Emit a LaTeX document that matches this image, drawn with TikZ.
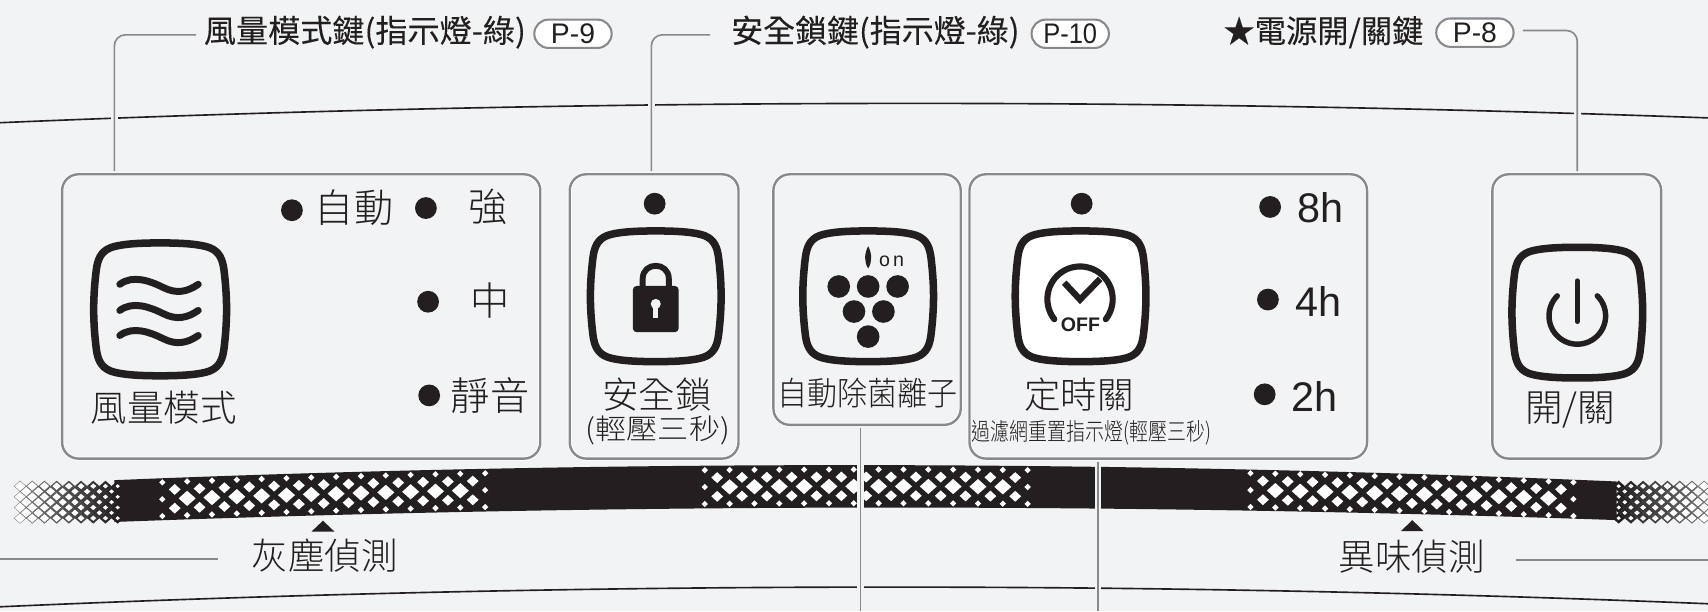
\documentclass[tikz,border=0pt]{standalone}
\usepackage{fontspec}
\setmainfont{Liberation Sans}
\newfontfamily\cjk{Noto Sans CJK TC Light}
\newfontfamily\cjkh[FakeBold=0.12]{Noto Sans CJK TC}
\definecolor{bg}{HTML}{F1F3F5}
\definecolor{ink}{HTML}{231F20}
\definecolor{leadc}{HTML}{87898C}
\newcommand\fs[1]{\fontsize{#1}{#1}\selectfont}
\newcommand\dmd[5]{\fill[#5] ({#1-#3},{#2}) -- ({#1},{#2-#4}) -- ({#1+#3},{#2}) -- ({#1},{#2+#4}) -- cycle;}
\newcommand\sqc[4][]{\draw[ink,line width=6.9pt,#1,shift={(#2,#3)},x=#4pt,y=#4pt]
 (0,-1) .. controls (.35,-1) and (.6,-.98) .. (.74,-.93)
 .. controls (.9,-.87) and (.94,-.74) .. (.96,-.6)
 .. controls (.985,-.4) and (1,-.2) .. (1,0)
 .. controls (1,.2) and (.985,.4) .. (.96,.6)
 .. controls (.94,.74) and (.9,.87) .. (.74,.93)
 .. controls (.6,.98) and (.35,1) .. (0,1)
 .. controls (-.35,1) and (-.6,.98) .. (-.74,.93)
 .. controls (-.9,.87) and (-.94,.74) .. (-.96,.6)
 .. controls (-.985,.4) and (-1,.2) .. (-1,0)
 .. controls (-1,-.2) and (-.985,-.4) .. (-.96,-.6)
 .. controls (-.94,-.74) and (-.9,-.87) .. (-.74,-.93)
 .. controls (-.6,-.98) and (-.35,-1) .. cycle;}
\newcommand\lattice[1]{%
 \foreach \k in {0,...,13}{%
  \pgfmathsetmacro\xx{#1+22.8*\k}\pgfmathsetmacro\cc{bandc(\xx)}%
  \dmd{\xx}{\cc-15.5}{2.9}{2.9}{white}\dmd{\xx}{\cc+15.5}{2.9}{2.9}{white}%
  \ifnum\k=0 \dmd{\xx}{\cc}{2.9}{2.9}{white}\else\ifnum\k=13 \dmd{\xx}{\cc}{2.9}{2.9}{white}\else\dmd{\xx}{\cc}{7.8}{7.0}{white}\fi\fi
  \ifnum\k<13 \pgfmathsetmacro\xy{\xx+11.4}\pgfmathsetmacro\cd{bandc(\xy)}%
  \dmd{\xy}{\cd-8.6}{5.4}{5.0}{white}\dmd{\xy}{\cd+8.6}{5.4}{5.0}{white}\fi
 }}
\newcommand\fade[3]{% start x, step, count
 \foreach \k in {0,...,#3}{%
  \pgfmathsetmacro\xx{#1+#2*\k}\pgfmathsetmacro\cc{461}%
  \pgfmathsetmacro\t{0.36+0.52*\k/16}\pgfmathsetmacro\mixv{100-40*\k/16}%
  \pgfmathsetmacro\wx{5.7*\t}\pgfmathsetmacro\wy{5.0*\t}%
  \colorlet{latd}{ink!\mixv!bg}%
  \ifodd\k
   \foreach \r in {-9.8,0,9.8}{\dmd{\xx}{\cc+\r}{5.7}{5.0}{latd}\dmd{\xx}{\cc+\r}{\wx}{\wy}{white!85!bg}}%
  \else
   \foreach \r in {-14.7,-4.9,4.9,14.7}{\dmd{\xx}{\cc+\r}{5.7}{5.0}{latd}\dmd{\xx}{\cc+\r}{\wx}{\wy}{white!85!bg}}%
  \fi}}
\tikzset{
 panel/.style={draw=leadc,line width=2.2pt,rounded corners=15pt,inner sep=0pt,preaction={draw=white,line width=3.6pt}},
 lead/.style={draw=leadc,line width=1.5pt,rounded corners=10pt},
 halo/.style={draw=bg,line width=6pt},
 arcline/.style={ink,line width=1.5pt},
 pill/.style={draw=leadc,fill=white,line width=1.9pt,rounded corners=13pt,minimum height=26pt,inner sep=0pt,text=ink,font=\fs{26}},
 cjkt/.style={inner sep=0pt,text=ink,font=\cjk\fs{#1}},
 cjkb/.style={inner sep=0pt,text=ink,font=\cjkh\fs{#1}},
 led/.style={circle,fill=ink,minimum size=20pt,inner sep=0pt},
 hour/.style={inner sep=0pt,text=ink,font=\fs{38}},
 wave/.style={ink,line width=6.4pt,line cap=round},
 gly/.style={ink,line cap=round}
}
\begin{document}
\begin{tikzpicture}[x=1pt,y=-1pt,
 declare function={bandc(\t)=446.5+13*((\t-780)/680)^2-0.001*(\t-780);}]
\useasboundingbox (0,0) rectangle (1568,561);
\fill[bg] (0,0) rectangle (1568,561);
% curved lines
\draw[arcline] plot[domain=0:1568,samples=70] (\x,{95+15.3*((\x-780)/780)^2-0.003*(\x-780)});
\draw[arcline] plot[domain=0:1568,samples=70] (\x,{539+16.5*((\x-780)/780)^2-0.002*(\x-780)});
% band
\fill[ink] plot[domain=105:1484,samples=60] (\x,{427+14*((\x-780)/680)^2})
 -- plot[domain=1484:105,samples=60] (\x,{466+12*((\x-780)/680)^2-0.002*(\x-780)}) -- cycle;
% fading ends
\begin{scope}
\clip (0,0) rectangle (1568,561);
\fade{108}{-5.6}{16}
\fade{1486}{5.6}{16}
\end{scope}
\lattice{149}\lattice{647}\lattice{1148}
% panels
\node[panel,minimum width=439pt,minimum height=261pt] (fanbox) at (276.5,290.5) {};
\node[panel,minimum width=155pt,minimum height=261pt] (lockbox) at (600.5,290.5) {};
\node[panel,minimum width=172pt,minimum height=230pt] (ionbox) at (796,275) {};
\node[panel,minimum width=365pt,minimum height=261pt] (timerbox) at (1072.5,290.5) {};
\node[panel,minimum width=155pt,minimum height=261pt] (powerbox) at (1447.5,290.5) {};
% top labels
\node[cjkb=29,anchor=west] (fanlabel) at (187,29.5) {\scalebox{1.017}[1]{風量模式鍵(指示燈-綠)}};
\node[pill,minimum width=71pt] (p9) at (526,31) {P-9};
\node[cjkb=29,anchor=west] (locklabel) at (671,29.5) {\scalebox{1.012}[1]{安全鎖鍵(指示燈-綠)}};
\node[pill,minimum width=71pt] (p10) at (982.5,31) {\scalebox{.9}[1]{P-10}};
\node[cjkb=29,anchor=west] (powerlabel) at (1123,29.5) {\scalebox{.99}[1]{★電源開/關鍵}};
\node[pill,minimum width=71pt] (p8) at (1354,30) {P-8};
% leaders
\coordinate (fanend) at (180,32);
\coordinate (lockend) at (652,32);
\coordinate (powerend) at (1398,28);
\coordinate (fantop) at (105,157);
\coordinate (locktop) at (598,157);
\coordinate (powertop) at (1448,157);
\coordinate (ionbot) at (790,393);
\coordinate (ionfoot) at (790,561);
\coordinate (timerbot) at (1008,424);
\coordinate (timerfoot) at (1008,561);
\coordinate (dustend) at (200,513);
\coordinate (dustedge) at (0,513);
\coordinate (odorend) at (1392,514);
\coordinate (odoredge) at (1568,514);
\draw[halo] (fantop) -- (fantop |- 60,80);
\draw[halo] (locktop) -- (locktop |- 60,80);
\draw[halo] (powertop) -- (powertop |- 60,80);
\draw[halo] (ionbot) -- (ionfoot);
\draw[halo] (timerbot) -- (timerfoot);
\draw[lead] (fantop) |- (fanend);
\draw[lead] (locktop) |- (lockend);
\draw[lead] (powertop) |- (powerend);
\draw[lead] (ionbot) -- (ionfoot);
\draw[lead] (timerbot) -- (timerfoot);
\draw[lead] (dustedge) -- (dustend);
\draw[lead] (odoredge) -- (odorend);
% panel text and LEDs
\node[led] (la) at (268,193) {};
\node[cjkt=36] (ta) at (325,191) {自動};
\node[led] (lb) at (391,191) {};
\node[cjkt=36] (tb) at (448,190) {強};
\node[led] (lc) at (393,277) {};
\node[cjkt=36] (tc) at (450,276) {中};
\node[led] (ld) at (394,363) {};
\node[cjkt=36] (td) at (450,363) {靜音};
\node[cjkt=33.5] (fant) at (150.5,374) {風量模式};
\node[led] (le) at (601,187) {};
\node[cjkt=33.5] (lockt) at (603,362) {安全鎖};
\node[cjkt=26] (lockt2) at (604,395) {\scalebox{1.1}[1]{(輕壓三秒)}};
\node[cjkt=30] (iont) at (796.5,361) {\scalebox{.92}[1]{自動除菌離子}};
\node[led] (lf) at (993,187) {};
\node[cjkt=33.5] (timert) at (990.5,362) {定時關};
\node[cjkt=22] (timert2) at (1002,397) {\scalebox{.79}[1]{過濾網重置指示燈(輕壓三秒)}};
\node[led] (lg) at (1166,190) {};
\node[hour] (h8) at (1212,191) {8h};
\node[led] (lh) at (1164,275) {};
\node[hour] (h4) at (1210,277) {4h};
\node[led] (li) at (1161,362) {};
\node[hour] (h2) at (1207,364) {2h};
\node[cjkt=34.5] (powert) at (1441.5,376) {開/關};
\node[cjkt=33.5] (dust) at (298,510) {灰塵偵測};
\node[cjkt=33.5] (odor) at (1296,511) {異味偵測};
\fill[ink] (296.5,478) -- (307,488) -- (286,488) -- cycle;
\fill[ink] (1296.5,477.5) -- (1307,487.7) -- (1286,487.7) -- cycle;
% fan icon
\sqc{147}{284}{61}
\foreach \d in {0,24,47}{\draw[wave] (110,261+\d) .. controls (122,252+\d) and (138,258+\d) .. (150,264+\d) .. controls (162,270+\d) and (172,268+\d) .. (182,261+\d);}
% lock icon
\sqc{602}{272}{60}
\draw[ink,line width=5.4pt] (590,266) -- (590,256) .. controls (590,240) and (614,240) .. (614,256) -- (614,266);
\fill[ink,rounded corners=3.5pt] (581,262.5) rectangle (623,305);
\fill[bg] (602,279) circle (4.6pt);
\fill[bg] (599.5,280) rectangle (604.5,292);
% ion icon
\sqc{797}{272}{60}
\foreach \p/\q in {770/263,797/263,824/263,784/286,811/286,797/309}{\fill[ink] (\p,\q) circle (10.4pt);}
\fill[ink] (797,226) .. controls (793.5,233) and (793,240) .. (797,246.5) .. controls (801,240) and (800.5,233) .. (797,226) -- cycle;
\node[inner sep=0pt,text=ink,font=\fs{18}] (ontext) at (818.5,240) {o\hspace{3pt}n};
% timer icon
\sqc[fill=white]{992}{272}{60}
\draw[gly,line width=5.6pt] plot[domain=142:398,samples=40] ({991.5+30*cos(\x)},{274.6+30*sin(\x)});
\draw[ink,line width=5.8pt] (977,259.5) -- (991.5,275) -- (1010,256);
\node[inner sep=0pt,text=ink,font=\bfseries\fs{18}] (offt) at (992,298) {OFF};
% power icon
\sqc{1448}{287}{60}
\draw[gly,line width=5pt] plot[domain=-45:225,samples=40] ({1448+26*cos(\x)},{290+26*sin(\x)});
\draw[gly,line width=5pt] (1448,258) -- (1448,295);
\end{tikzpicture}
\end{document}
